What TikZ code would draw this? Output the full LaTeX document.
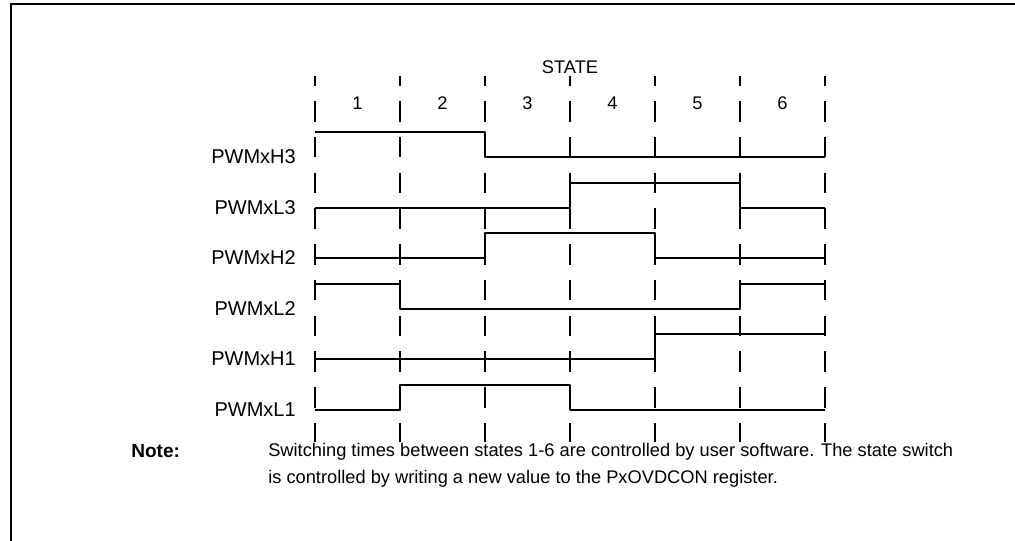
\documentclass[tikz,border=0pt]{standalone}
\usepackage{fontspec}
\setmainfont{Liberation Sans}
\usetikzlibrary{positioning}
\tikzset{signal/.style = {line width=1.5pt, line join=round}}
\tikzset{divider/.style = {line width=1.5pt, dash pattern=on 15.4pt off 11.4pt, dash phase=7.9pt}}
\tikzset{txt/.style = {inner sep=0pt, font=\fontsize{13.7}{20.25}\selectfont}}
\tikzset{siglabel/.style = {txt, anchor=east, font=\fontsize{15}{18}\selectfont}}
\def\xo{315}
\def\dx{85}
\def\dh{25}
\def\yt{76}
\def\yb{442}

\begin{document}
\begin{tikzpicture}[x=0.75pt, y=-0.75pt]
		% Page
		\useasboundingbox (0,0) rectangle (1015,541);
		
		% Frame
		\draw[line width=2pt] (11,560) -- (11,4) -- (1030,4);
		
		% Header
		\node[txt] (state) at (\xo+3*\dx, 67) {STATE};
		\foreach \i in {1, ..., 6}
		{
			\node[txt] (s\i) at (\xo+\i*\dx-\dx/2, 103) {\i};
		}
		
		% Dashed Dividers
		\foreach \i in {0, ..., 6}
		{
			\draw[divider] (\xo+\i*\dx, \yt) -- (\xo+\i*\dx, \yb);
		}
		
		% Waveforms
		%% name / low level / first bit / bits
		\foreach \lbl/\lo/\init/\bits in {PWMxH3/157/1/{1,1,0,0,0,0}, PWMxL3/208/0/{0,0,0,1,1,0}, PWMxH2/258/0/{0,0,1,1,0,0}, PWMxL2/309/1/{1,0,0,0,0,1}, PWMxH1/359/0/{0,0,0,0,1,1}, PWMxL1/410/0/{0,1,1,0,0,0}}
		{
			\node[siglabel] (\lbl) at (\xo-19, \lo) {\lbl};
			\draw[signal] (\xo, \lo-\init*\dh) \foreach \b [count=\k from 1] in \bits { |- (\xo+\k*\dx, \lo-\b*\dh) };
		}
		
		% Note
		\node[txt, anchor=north west, align=left] (note) at (268, 443) {Switching times between states 1-6 are controlled by user software. The state switch\\is controlled by writing a new value to the PxOVDCON register.};
		\node[txt, anchor=base west, font=\fontsize{14.3}{20.25}\selectfont\bfseries] (notehead) at (131, 458) {Note:};
	\end{tikzpicture}
\end{document}
